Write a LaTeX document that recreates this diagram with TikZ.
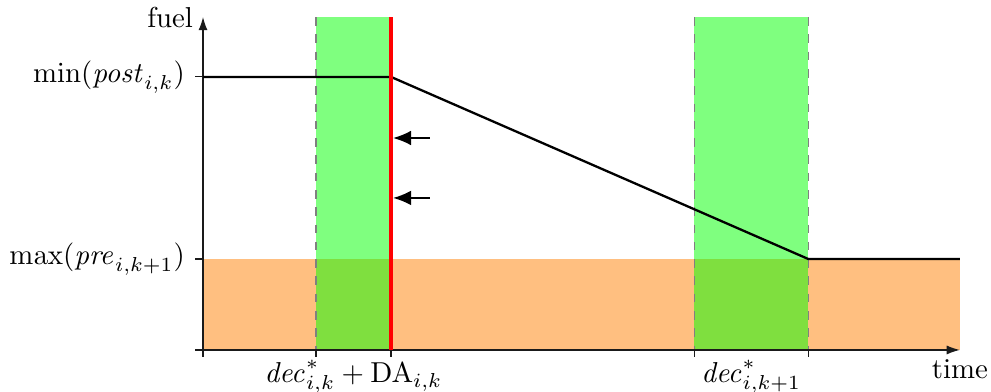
\documentclass[tikz,border=0pt]{standalone}
\usepackage{amsmath,amssymb}
\usepackage{xcolor}
\usepackage{tikz}
\usetikzlibrary{positioning,arrows.meta,calc}
\definecolor{ink}{HTML}{1A1A1A}
\definecolor{band}{RGB}{255,191,128}
\definecolor{slot}{RGB}{0,255,0}
\tikzset{
  axis/.style={-{Latex[length=1.6mm,width=1.1mm]}, color=ink},
  tick/.style={color=ink},
  guide/.style={dashed, gray},
  win/.style={fill=slot, fill opacity=0.5},
  fuelline/.style={thick, black},
  due/.style={red, line width=1.4pt},
  push/.style={-{Latex[length=2.2mm,width=1.8mm]}, semithick},
  lbl/.style={inner sep=3.3pt},
}

\begin{document}
\begin{tikzpicture}[x=1cm, y=1cm]
\useasboundingbox (-2.476,-0.512) rectangle (9.61,4.268);

\coordinate (O)    at (0,0);
\coordinate (tend) at (9.23,0);
\coordinate (ftop) at (0,4.06);
\coordinate (dA)   at (1.378,0);
\coordinate (dB)   at (2.293,0);
\coordinate (dC)   at (5.99,0);
\coordinate (dD)   at (7.38,0);
\coordinate (hiF)  at (0,3.33);
\coordinate (loF)  at (0,1.11);

% reserve band and decision windows
\fill[band] (O) rectangle (tend |- loF);
\fill[win] (dA) rectangle (dB |- ftop);
\fill[win] (dC) rectangle (dD |- ftop);

\foreach \c in {dA,dB,dC,dD}
  \draw[guide] (\c |- ftop) -- (\c);

% axes
\draw[axis] (O) -- (tend);
\draw[axis] (O) -- (ftop);
\foreach \c in {O,dA,dB,dC,dD}
  \draw[tick] (\c) -- ++(0,-0.09);
\foreach \c in {O,hiF,loF}
  \draw[tick] (\c) -- ++(-0.1,0);

\node[lbl, left] (fuel) at (ftop) {fuel};
\node[lbl, below] (time) at (tend) {time};
\node[lbl, left] (post) at ($(hiF)+(-0.1,0)$) {$\min(\mathit{post}_{i,k})$};
\node[lbl, left] (pre)  at ($(loF)+(-0.1,0)$) {$\max(\mathit{pre}_{i,k+1})$};
\node[lbl, below, inner sep=2pt] (decA) at ($(dA)!0.5!(dB)+(0,-0.05)$) {$\mathit{dec}^*_{i,k} + \mathrm{DA}_{i,k}$};
\node[lbl, below, inner sep=2pt] (decB) at ($(dC)!0.5!(dD)+(0,-0.05)$) {$\mathit{dec}^*_{i,k+1}$};

% fuel level
\coordinate (f1) at (dB |- hiF);
\coordinate (f2) at (dD |- loF);
\coordinate (f3) at (tend |- loF);
\draw[fuelline] (hiF) -- (f1) -- (f2) -- (f3);

\draw[due] (dB |- ftop) -- (dB);

\coordinate (p1) at (2.768,2.585);
\coordinate (p2) at (2.768,1.854);
\draw[push] (p1) -- (p1 -| {2.318,0});
\draw[push] (p2) -- (p2 -| {2.318,0});

\end{tikzpicture}
\end{document}
